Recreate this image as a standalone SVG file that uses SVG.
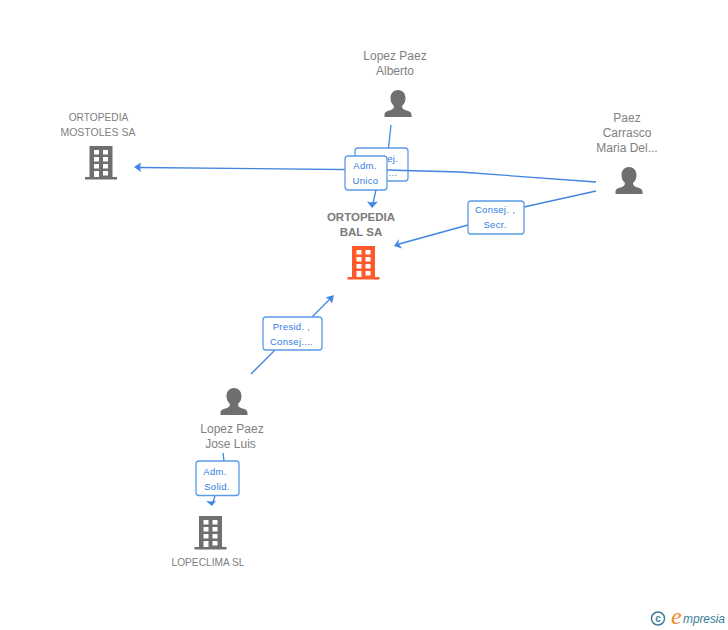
<svg xmlns="http://www.w3.org/2000/svg" width="728" height="630" viewBox="0 0 728 630">
<style>
.n{font:12px "Liberation Sans",Arial,sans-serif;fill:#808080;text-anchor:middle}
.s{font-size:10.2px}
.b{font:bold 11.5px "Liberation Sans",Arial,sans-serif;fill:#7a7a7a;text-anchor:middle}
.l{font:9.5px "Liberation Sans",Arial,sans-serif;fill:#2f7de1;text-anchor:middle;letter-spacing:.3px}
.box{fill:#fff;stroke:#5b9be8;stroke-width:1.3}
.c{fill:none;stroke:#4285e0;stroke-width:1.3}
.a{fill:#3f86e6}
</style>
<defs>
<g id="person"><path d="M0 0c-5 0-7.500 4-7.500 8 0 3 1 6 3.500 8 0 2-1 3-3 4-4 1-6.500 2-6.500 5v2h27v-2c0-3-2.500-4-6.500-5-2-1-3-2-3-4 2.500-2 3.500-5 3.500-8 0-4-2.500-8-7.500-8z" fill="#6f6f6f"/></g>
<g id="bld"><path d="M-11.500 0h23v31h4.500v2.500h-32v-2.500h4.500z"/><g fill="#fff"><rect x="-7" y="4" width="5" height="4.500"/><rect x="2" y="4" width="5" height="4.500"/><rect x="-7" y="11" width="5" height="4.500"/><rect x="2" y="11" width="5" height="4.500"/><rect x="-7" y="18" width="5" height="4.500"/><rect x="2" y="18" width="5" height="4.500"/><rect x="-7" y="25" width="5" height="6"/><rect x="2" y="25" width="5" height="4.500"/></g></g>
</defs>
<g id="label-consej-back"><rect class="box" x="355" y="148" width="53" height="33" rx="3"/><text class="l" x="381" y="161.500">Consej.</text><text class="l" x="393" y="176">...</text></g>
<g id="connectors">
<path class="c" d="M391 125L388.500 148M376 190L373 203"/>
<path class="a" d="M372 208l-5-6.500 5 1 6-1z"/>
<path class="c" d="M596 182L460 172L387 170L139 167.500"/>
<path class="a" d="M134 167l7-4.500-1 4.500 1 5z"/>
<path class="c" d="M596 191L524 207M468 225L399 244"/>
<path class="a" d="M394 246l5-7-.5 4.500 3.500 5z"/>
<path class="c" d="M251 374L275 350M312 317L330 299"/>
<path class="a" d="M334 295l-2 8.500-2.500-4-4-2z"/>
<path class="c" d="M223 453L224 461M215 496L213 502"/>
<path class="a" d="M212 506l-6-5 5 .5 5-1z"/>
</g>
<g id="node-lopez-alberto"><text class="n" x="395" y="60">Lopez Paez</text><text class="n" x="395" y="75">Alberto</text><use href="#person" x="398" y="90"/></g>
<g id="node-paez"><text class="n" x="627" y="122">Paez</text><text class="n" x="627" y="137">Carrasco</text><text class="n" x="627" y="152">Maria Del...</text><use href="#person" x="629" y="167"/></g>
<g id="node-mostoles" fill="#6f6f6f"><text class="n s" x="98.500" y="121">ORTOPEDIA</text><text class="n s" x="98" y="136" style="font-size:10.500px">MOSTOLES SA</text><use href="#bld" x="101" y="146"/></g>
<g id="node-bal" fill="#ff5a2b"><text class="b" x="361" y="221">ORTOPEDIA</text><text class="b" x="361" y="236">BAL SA</text><use href="#bld" x="363.500" y="246"/></g>
<g id="node-lopez-jose"><use href="#person" x="234" y="388"/><text class="n" x="232" y="432.500">Lopez Paez</text><text class="n" x="230.500" y="447.500">Jose Luis</text></g>
<g id="node-lopeclima" fill="#6f6f6f"><use href="#bld" x="210.500" y="516"/><text class="n s" x="208" y="566">LOPECLIMA SL</text></g>
<g id="label-adm-unico"><rect class="box" x="345" y="156" width="42" height="34" rx="3"/><text class="l" x="365" y="169">Adm.</text><text class="l" x="365.500" y="184">Unico</text></g>
<g id="label-consej-secr"><rect class="box" x="468" y="201" width="56" height="33" rx="3"/><text class="l" x="495" y="213">Consej. ,</text><text class="l" x="495" y="228">Secr.</text></g>
<g id="label-presid"><rect class="box" x="263" y="317" width="59" height="33" rx="3"/><text class="l" x="291.500" y="330">Presid. ,</text><text class="l" x="291.500" y="345">Consej....</text></g>
<g id="label-adm-solid"><rect class="box" x="196" y="461" width="43" height="34.500" rx="3"/><text class="l" x="215" y="475">Adm.</text><text class="l" x="217" y="490">Solid.</text></g>
<g id="logo"><circle cx="658" cy="618.500" r="6.500" fill="none" stroke="#3d7f96" stroke-width="1.500"/><text x="658" y="622" font-family="'Liberation Sans',sans-serif" font-weight="bold" font-size="10" fill="#3d7f96" text-anchor="middle">c</text><text x="671" y="624" font-family="'Liberation Serif',serif" font-style="italic" font-size="24" fill="#f28a1e">e</text><text x="683" y="623" font-family="'Liberation Sans',sans-serif" font-style="italic" font-size="12" textLength="42" fill="#3d7f96">mpresia</text></g>
</svg>
